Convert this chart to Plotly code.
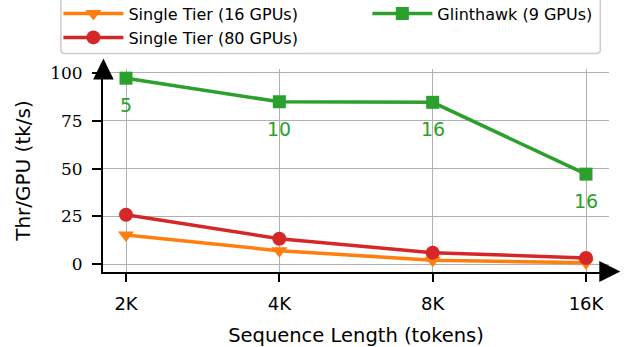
import plotly.graph_objects as go

# Throughput per GPU by sequence length
seq_lengths = ["2K", "4K", "8K", "16K"]
single_tier_16 = [15.3, 7.1, 2.2, 0.8]
single_tier_80 = [25.9, 13.4, 6.1, 3.3]
glinthawk_9 = [97.2, 84.9, 84.6, 47.1]
glinthawk_labels = ["5", "10", "16", "16"]
y_ticks = [0, 25, 50, 75, 100]

ORANGE = "#ff7f0e"
RED = "#d62728"
GREEN = "#2ca02c"
SANS = "DejaVu Sans"
SERIF = "DejaVu Serif"

W, H = 624, 347
L, R, T, B = 102.6, 15.3, 68.5, 75.0
PW, PH = W - L - R, H - T - B


def to_paper(px, py):
    """Convert a pixel position on the page into paper coordinates."""
    return (px - L) / PW, (H - B - py) / PH


fig = go.Figure()

series = [
    ("Single Tier (16 GPUs)", single_tier_16, ORANGE, "triangle-down", 14, "legend"),
    ("Single Tier (80 GPUs)", single_tier_80, RED, "circle", 14, "legend"),
    ("Glinthawk (9 GPUs)", glinthawk_9, GREEN, "square", 13, "legend2"),
]
for name, vals, color, symbol, size, leg in series:
    fig.add_trace(go.Scatter(
        x=seq_lengths, y=vals, name=name, mode="lines+markers",
        line=dict(color=color, width=3.5),
        marker=dict(symbol=symbol, size=size, color=color, line=dict(width=0)),
        legend=leg,
    ))

# GPU-count labels under the Glinthawk points
for cat, val, lab in zip(seq_lengths, glinthawk_9, glinthawk_labels):
    fig.add_annotation(
        x=cat, y=val, text=lab, showarrow=False, yshift=-27,
        yanchor="middle", xanchor="center",
        font=dict(family=SANS, size=19, color=GREEN),
    )

# Arrow heads on the axis spines
tx0, ty0 = to_paper(92.7, 79)
tx1, ty1 = to_paper(103.0, 58)
tx2, _ = to_paper(113.3, 79)
rx0, ry0 = to_paper(599, 261)
rx1, ry1 = to_paper(620, 271.5)
_, ry2 = to_paper(599, 282)
arrow_paths = [
    f"M {tx0} {ty0} L {tx1} {ty1} L {tx2} {ty0} Z",
    f"M {rx0} {ry0} L {rx1} {ry1} L {rx0} {ry2} Z",
]
for p in arrow_paths:
    fig.add_shape(type="path", path=p, xref="paper", yref="paper",
                  fillcolor="black", line=dict(width=0), layer="above")

# Legend frame (rounded rectangle) holding both legend columns
bx0, by0 = to_paper(60.5, 53)
bx1, by1 = to_paper(600, -6)
rx, ry = 4 / PW, 4 / PH
frame = (f"M {bx0 + rx} {by0} L {bx1 - rx} {by0} Q {bx1} {by0} {bx1} {by0 + ry} "
         f"L {bx1} {by1 - ry} Q {bx1} {by1} {bx1 - rx} {by1} "
         f"L {bx0 + rx} {by1} Q {bx0} {by1} {bx0} {by1 - ry} "
         f"L {bx0} {by0 + ry} Q {bx0} {by0} {bx0 + rx} {by0} Z")
fig.add_shape(type="path", path=frame, xref="paper", yref="paper",
              fillcolor="white", line=dict(color="#cccccc", width=1.5),
              layer="above")

leg1_x, leg_y = to_paper(58, -4)
leg2_x, _ = to_paper(367, -4)
legend_style = dict(
    orientation="v", y=leg_y, xanchor="left", yanchor="top",
    bgcolor="rgba(0,0,0,0)", borderwidth=0,
    font=dict(family=SANS, size=16, color="black"),
    itemwidth=60, traceorder="normal",
)

fig.update_layout(
    width=W, height=H,
    margin=dict(l=L, r=R, t=T, b=B, autoexpand=False),
    paper_bgcolor="white", plot_bgcolor="white",
    font=dict(family=SANS, color="black"),
    showlegend=True,
    legend=dict(x=leg1_x, **legend_style),
    legend2=dict(x=leg2_x, **legend_style),
    xaxis=dict(
        type="category", categoryorder="array", categoryarray=seq_lengths,
        range=[-0.15, 3.15],
        showgrid=True, gridcolor="#b0b0b0", gridwidth=1,
        showline=True, linecolor="black", linewidth=2,
        ticks="outside", ticklen=8, tickwidth=2, tickcolor="black",
        tickfont=dict(family=SANS, size=18, color="black"),
        ticklabelstandoff=6,
        title=dict(text="Sequence Length (tokens)", standoff=17,
                   font=dict(family=SANS, size=19.5, color="black")),
        zeroline=False,
    ),
    yaxis=dict(
        range=[-4.0, 102.0],
        tickmode="array", tickvals=y_ticks, ticktext=[str(v) for v in y_ticks],
        showgrid=True, gridcolor="#b0b0b0", gridwidth=1,
        showline=True, linecolor="black", linewidth=2,
        ticks="outside", ticklen=9, tickwidth=2, tickcolor="black",
        tickfont=dict(family=SERIF, size=17, color="black"),
        ticklabelstandoff=6,
        title=dict(text="Thr/GPU (tk/s)", standoff=14,
                   font=dict(family=SANS, size=20, color="black")),
        zeroline=False,
    ),
)

fig.write_html("out.html")
